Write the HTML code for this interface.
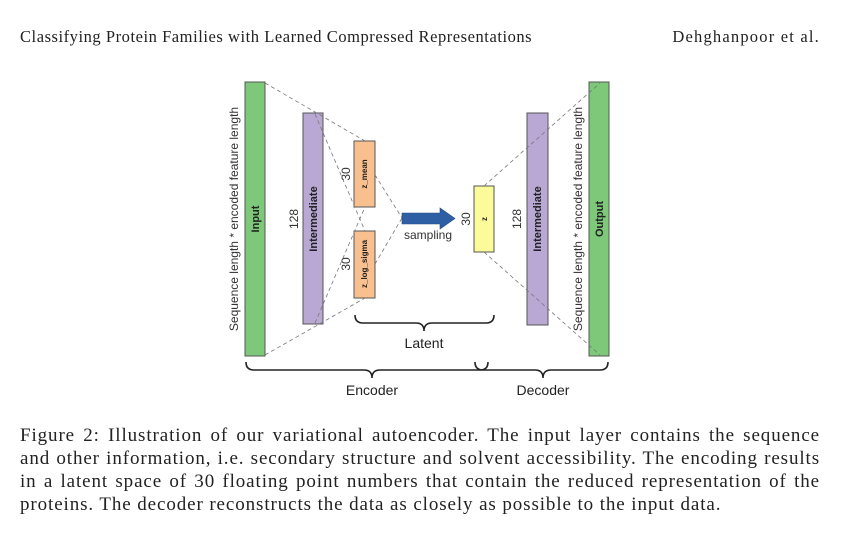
<!DOCTYPE html>
<html><head><style>
body{margin:0;width:868px;height:540px;background:#fff;position:relative;overflow:hidden;font-family:"Liberation Serif",serif;}
.hd{position:absolute;top:27px;font-size:16.5px;letter-spacing:0.55px;color:#222;}
.cap{position:absolute;left:20px;top:424px;width:800px;font-size:19px;letter-spacing:0.9px;line-height:23px;color:#222;}
.cap div{text-align:justify;text-align-last:justify;white-space:nowrap;}
.cap div.l{text-align-last:left;}
</style></head><body>
<div class="hd" style="left:20px">Classifying Protein Families with Learned Compressed Representations</div>
<div class="hd" style="right:48px;letter-spacing:1.2px">Dehghanpoor et al.</div>
<svg width="868" height="540" style="position:absolute;left:0;top:0" font-family="Liberation Sans, sans-serif">
<rect x="245" y="82" width="20" height="274" fill="#7ec87a" stroke="#555"/>
<rect x="303" y="113" width="20" height="211" fill="#b9a8d4" stroke="#555"/>
<rect x="354" y="141" width="21" height="66" fill="#f9c08f" stroke="#555"/>
<rect x="354" y="231" width="21" height="67" fill="#f9c08f" stroke="#555"/>
<rect x="474" y="186" width="20" height="66" fill="#fbfb99" stroke="#555"/>
<rect x="527" y="113" width="21" height="212" fill="#b9a8d4" stroke="#555"/>
<rect x="589" y="82" width="20" height="274" fill="#7ec87a" stroke="#555"/>
<g stroke="#777" stroke-width="0.8" stroke-dasharray="4,3" fill="none">
<line x1="265" y1="83" x2="365" y2="141"/>
<line x1="265" y1="355" x2="365" y2="298"/>
<line x1="315" y1="114" x2="365" y2="231"/>
<line x1="315" y1="323" x2="365" y2="207"/>
<line x1="375" y1="175" x2="402" y2="218"/>
<line x1="375" y1="264" x2="402" y2="218"/>
<line x1="484" y1="186" x2="600" y2="83"/>
<line x1="484" y1="252" x2="600" y2="355"/>
</g>
<polygon points="402,213 440,213 440,208 455,218.5 440,229 440,224 402,224" fill="#2e5fa4" stroke="#244c86" stroke-width="0.6"/>
<text x="428" y="239" font-size="12" text-anchor="middle" fill="#333">sampling</text>
<g font-size="12" fill="#333" text-anchor="middle">
<text transform="translate(238,219) rotate(-90)">Sequence length * encoded feature length</text>
<text transform="translate(582,219) rotate(-90)">Sequence length * encoded feature length</text>
<text transform="translate(298,219) rotate(-90)">128</text>
<text transform="translate(521,219) rotate(-90)">128</text>
<text transform="translate(350,174) rotate(-90)">30</text>
<text transform="translate(350,264) rotate(-90)">30</text>
<text transform="translate(470,219) rotate(-90)">30</text>
</g>
<g font-size="11" font-weight="bold" fill="#222" text-anchor="middle">
<text transform="translate(259,219) rotate(-90)">Input</text>
<text transform="translate(603,219) rotate(-90)">Output</text>
<text transform="translate(317,219) rotate(-90)">Intermediate</text>
<text transform="translate(541,219) rotate(-90)">Intermediate</text>
</g>
<g font-size="8" font-weight="bold" fill="#222" text-anchor="middle">
<text transform="translate(367,174) rotate(-90)">z_mean</text>
<text transform="translate(367,264) rotate(-90)">z_log_sigma</text>
<text transform="translate(487,219) rotate(-90)">z</text>
</g>
<g stroke="#222" stroke-width="1.6" fill="none">
<path d="M355,315 Q355,323 363,323 L416,323 Q424,323 424,331 Q424,323 432,323 L486,323 Q494,323 494,315"/>
<path d="M246,362 Q246,370 254,370 L364,370 Q372,370 372,378 Q372,370 380,370 L480,370 Q488,370 488,362"/>
<path d="M475,362 Q475,370 483,370 L535,370 Q543,370 543,378 Q543,370 551,370 L600,370 Q608,370 608,362"/>
</g>
<g font-size="14" fill="#222" text-anchor="middle">
<text x="424" y="348">Latent</text>
<text x="372" y="395">Encoder</text>
<text x="543" y="395">Decoder</text>
</g>
</svg>
<div class="cap">
<div>Figure 2: Illustration of our variational autoencoder. The input layer contains the sequence</div>
<div>and other information, i.e. secondary structure and solvent accessibility. The encoding results</div>
<div>in a latent space of 30 floating point numbers that contain the reduced representation of the</div>
<div class="l">proteins. The decoder reconstructs the data as closely as possible to the input data.</div>
</div>
</body></html>
